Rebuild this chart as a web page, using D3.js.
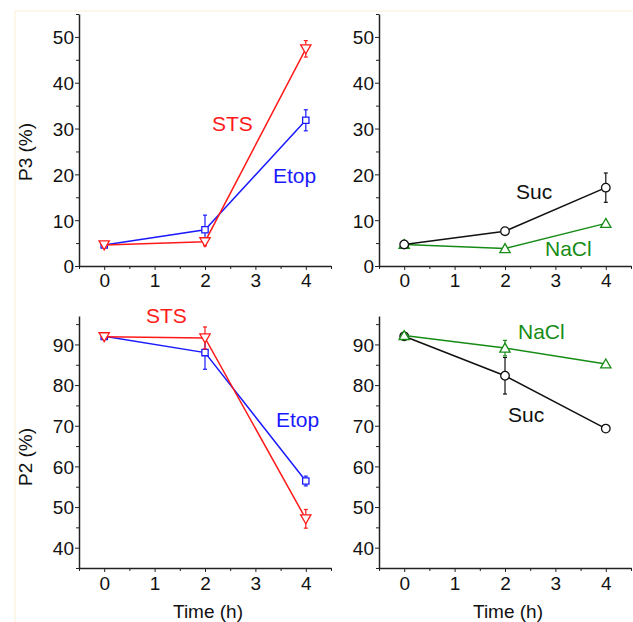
<!DOCTYPE html>
<html lang="en">
	<head>
		<meta charset="utf-8">
		<title>P3 / P2 time course</title>
		<script type="text/javascript" src="https://cdn.jsdelivr.net/npm/d3@7"></script>
		<style type="text/css">
			body { margin: 0; background: #fff; }
			text { font-family: Arial, "Liberation Sans", sans-serif; }
			.axis path, .axis line { stroke: #222; }
			.axis text { font-size: 19px; fill: #111; font-family: Arial, "Liberation Sans", sans-serif; }
		</style>
	</head>
	<body>
		<script type="text/javascript">

			//Data
			var times = [0, 2, 4];
			var xTicks = [0, 1, 2, 3, 4];
			var topTicks = [0, 10, 20, 30, 40, 50];
			var bottomTicks = [40, 50, 60, 70, 80, 90];

			var p3STS = [4.6, 5.3, 47.4];
			var p3STSerr = [0.4, 0.9, 1.8];
			var p3Etop = [4.6, 7.9, 31.8];
			var p3EtopErr = [0.4, 3.2, 2.3];
			var p3Suc = [4.7, 7.6, 17.1];
			var p3SucErr = [0.4, 0.5, 3.2];
			var p3NaCl = [4.7, 3.8, 9.3];
			var p3NaClErr = [0.4, 0.5, 0.3];

			var p2STS = [91.9, 91.6, 47.1];
			var p2STSerr = [0.5, 2.7, 2.3];
			var p2Etop = [92.0, 88.0, 56.4];
			var p2EtopErr = [0.5, 4.1, 1.2];
			var p2NaCl = [92.2, 89.1, 85.2];
			var p2NaClErr = [0.5, 1.9, 0.4];
			var p2Suc = [92.0, 82.3, 69.3];
			var p2SucErr = [0.5, 4.5, 0.6];

			var w = 633;
			var h = 622;

			var svg = d3.select("body")
						.append("svg")
						.attr("width", w)
						.attr("height", h);

			//faint frame lines from the scan
			svg.append("line").attr("x1", 15).attr("x2", w).attr("y1", 11).attr("y2", 11)
				.attr("stroke", "#fdf5e2").attr("stroke-width", 1.5);
			svg.append("line").attr("x1", 15).attr("x2", 15).attr("y1", 11).attr("y2", h)
				.attr("stroke", "#fdf5e2").attr("stroke-width", 1.5);

			var xLeft = d3.scaleLinear().domain([-0.5, 4.5]).range([79, 331]);
			var xRight = d3.scaleLinear().domain([-0.5, 4.5]).range([379, 631]);
			var yTop = d3.scaleLinear().domain([0, 55]).range([266, 14]);
			var yBottom = d3.scaleLinear().domain([35, 97]).range([568, 316]);

			var symbols = {
				down: d3.symbol().type(d3.symbolTriangle).size(46),
				up: d3.symbol().type(d3.symbolTriangle).size(46),
				square: d3.symbol().type(d3.symbolSquare).size(40),
				circle: d3.symbol().type(d3.symbolCircle).size(58)
			};

			function drawAxes(x, y, ticks, pad) {
				var yMinor = [];
				for (var v = y.domain()[0]; v <= y.domain()[1]; v += 5) {
					if (ticks.indexOf(v) < 0) yMinor.push(v);
				}
				svg.append("g")
					.attr("class", "axis")
					.attr("transform", "translate(0," + y.range()[0] + ")")
					.call(d3.axisBottom(x).tickValues([-0.5, 0.5, 1.5, 2.5, 3.5, 4.5]).tickSize(3).tickFormat(""))
					.call(function(g) { g.select(".domain").remove(); });
				svg.append("g")
					.attr("class", "axis")
					.attr("transform", "translate(0," + y.range()[0] + ")")
					.call(d3.axisBottom(x).tickValues(xTicks).tickSize(4).tickSizeOuter(0).tickPadding(pad).tickFormat(d3.format("d")))
					.call(function(g) { g.select(".domain").attr("stroke-width", 1.5); });
				svg.append("g")
					.attr("class", "axis")
					.attr("transform", "translate(" + x.range()[0] + ",0)")
					.call(d3.axisLeft(y).tickValues(yMinor).tickSize(3).tickFormat(""))
					.call(function(g) { g.select(".domain").remove(); });
				svg.append("g")
					.attr("class", "axis")
					.attr("transform", "translate(" + x.range()[0] + ",0)")
					.call(d3.axisLeft(y).tickValues(ticks).tickSize(4).tickSizeOuter(0).tickPadding(1))
					.call(function(g) { g.select(".domain").attr("stroke-width", 1.5); })
					.selectAll("text").attr("dy", "0.36em");
			}

			function drawSeries(x, y, values, errs, color, shape) {
				var pts = times.map(function(t, i) { return { t: t, v: values[i], e: errs[i] }; });
				var line = d3.line()
					.x(function(d) { return x(d.t); })
					.y(function(d) { return y(d.v); });
				svg.append("path")
					.datum(pts)
					.attr("d", line)
					.attr("fill", "none")
					.attr("stroke", color)
					.attr("stroke-width", 1.5);
				var g = svg.append("g").attr("stroke", color).attr("stroke-width", 1.2);
				g.selectAll("line.err")
					.data(pts)
					.enter()
					.append("line")
					.attr("x1", function(d) { return x(d.t); })
					.attr("x2", function(d) { return x(d.t); })
					.attr("y1", function(d) { return y(d.v + d.e); })
					.attr("y2", function(d) { return y(d.v - d.e); });
				[1, -1].forEach(function(s) {
					g.selectAll("line.cap" + s)
						.data(pts)
						.enter()
						.append("line")
						.attr("x1", function(d) { return x(d.t) - 2; })
						.attr("x2", function(d) { return x(d.t) + 2; })
						.attr("y1", function(d) { return y(d.v + s * d.e); })
						.attr("y2", function(d) { return y(d.v + s * d.e); });
				});
				svg.selectAll(null)
					.data(pts)
					.enter()
					.append("path")
					.attr("d", symbols[shape])
					.attr("transform", function(d) {
						var yy = y(d.v);
						if (shape === "down") return "translate(" + x(d.t) + "," + (yy - 1) + ") rotate(180)";
						if (shape === "up") return "translate(" + x(d.t) + "," + (yy + 1) + ")";
						return "translate(" + x(d.t) + "," + yy + ")";
					})
					.attr("fill", "#fff")
					.attr("stroke", color)
					.attr("stroke-width", 1.3);
			}

			function label(txt, x, y, color) {
				svg.append("text")
					.attr("x", x)
					.attr("y", y)
					.attr("font-size", "21px")
					.attr("fill", color)
					.text(txt);
			}

			var red = "#ff1a1a", blue = "#1a1aff", green = "#168c16", black = "#111";

			//top left
			drawAxes(xLeft, yTop, topTicks, 4);
			drawSeries(xLeft, yTop, p3Etop, p3EtopErr, blue, "square");
			drawSeries(xLeft, yTop, p3STS, p3STSerr, red, "down");
			label("STS", 212, 131, red);
			label("Etop", 273, 183, blue);

			//top right
			drawAxes(xRight, yTop, topTicks, 4);
			drawSeries(xRight, yTop, p3NaCl, p3NaClErr, green, "up");
			drawSeries(xRight, yTop, p3Suc, p3SucErr, black, "circle");
			label("Suc", 516, 199, black);
			label("NaCl", 545, 256, green);

			//bottom left
			drawAxes(xLeft, yBottom, bottomTicks, 5);
			drawSeries(xLeft, yBottom, p2Etop, p2EtopErr, blue, "square");
			drawSeries(xLeft, yBottom, p2STS, p2STSerr, red, "down");
			label("STS", 146, 323, red);
			label("Etop", 276, 427, blue);

			//bottom right
			drawAxes(xRight, yBottom, bottomTicks, 5);
			drawSeries(xRight, yBottom, p2Suc, p2SucErr, black, "circle");
			drawSeries(xRight, yBottom, p2NaCl, p2NaClErr, green, "up");
			label("NaCl", 518, 339, green);
			label("Suc", 508, 422, black);

			//axis titles
			[["P3 (%)", 152], ["P2 (%)", 457]].forEach(function(d) {
				svg.append("text")
					.attr("transform", "translate(32," + d[1] + ") rotate(-90)")
					.attr("text-anchor", "middle")
					.attr("font-size", "19px")
					.attr("fill", "#111")
					.text(d[0]);
			});
			[208, 508].forEach(function(cx) {
				svg.append("text")
					.attr("x", cx)
					.attr("y", 618)
					.attr("text-anchor", "middle")
					.attr("font-size", "19px")
					.attr("fill", "#111")
					.text("Time (h)");
			});

		</script>
	</body>
</html>
